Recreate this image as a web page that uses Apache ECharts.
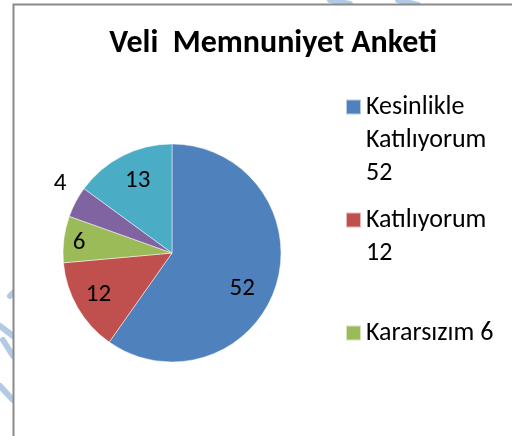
<!DOCTYPE html>
<html>
<head>
<meta charset="utf-8">
<script src="https://cdn.jsdelivr.net/npm/echarts@6/dist/echarts.min.js"></script>
<style>
  html, body { margin: 0; padding: 0; background: #fff; }
  #chart { width: 512px; height: 436px; }
</style>
</head>
<body>
<div id="chart"></div>
<script>
// Veli memnuniyet anketi - pasta grafik
const names = ['Kesinlikle Katılıyorum', 'Katılıyorum', 'Kararsızım', 'Katılmıyorum', 'Kesinlikle Katılmıyorum']
const values = [52, 12, 6, 4, 13]
// how each legend entry wraps before the value
const legendWrap = ['Kesinlikle\nKatılıyorum\n', 'Katılıyorum\n', 'Kararsızım ', 'Katılmıyorum\n', 'Kesinlikle\nKatılmıyorum\n']

const colors = ['#4F81BD', '#C0504D', '#9BBB59', '#8064A2', '#4BACC6']
const font = 'Carlito, "Noto Sans", sans-serif'
const center = [172, 253]
const R = 109
// excel "best fit" label spots: distance (share of radius) and angle shift from slice middle
const labelDist = [0.694, 0.75, 0.83, 1.18, 0.706]
const labelShift = [9.1, 0.3, -0.9, 3.9, 1.5]
const lineH = 33

const chart = echarts.init(document.getElementById('chart'))

// the last two legend rows fall below the cropped picture, so only the first three are drawn
const legends = names.slice(0, 3).map((n, i) => {
  const txt = legendWrap[i] + values[i]
  const lines = txt.split('\n').length
  return {
    orient: 'vertical',
    left: 345,
    top: 107 + i * 113 - (2 * lines - 1) * lineH / 2,
    padding: 0,
    itemWidth: 15,
    itemHeight: 15,
    icon: 'rect',
    selectedMode: false,
    data: [n],
    formatter: () => '\n'.repeat(lines - 1) + txt,
    textStyle: { fontFamily: font, fontSize: 26, color: '#000', lineHeight: lineH }
  }
})

// transparent rings only used to put the value labels where excel put them
const labelSeries = names.map((n, i) => ({
  type: 'pie',
  silent: true,
  center: center,
  radius: [labelDist[i] * R - 4, labelDist[i] * R + 4],
  startAngle: 90 - labelShift[i],
  avoidLabelOverlap: false,
  emphasis: { disabled: true },
  itemStyle: { color: 'rgba(0,0,0,0)' },
  labelLine: { show: false },
  label: {
    position: 'inside',
    formatter: '{c}',
    fontFamily: font,
    fontSize: 25,
    color: '#000'
  },
  data: names.map((m, j) => ({ name: m, value: values[j], label: { show: j === i } }))
}))

// faint blue scan marks round the frame
const marks = [
  [[0, 326], [13, 336]],
  [[3, 340], [13, 356]],
  [[0, 386], [13, 400]],
  [[10, 296], [13, 293]],
  [[330, 0], [350, 4]],
  [[398, 0], [418, 5]]
].map(p => ({
  type: 'polyline',
  z: -20,
  shape: { points: p },
  style: { stroke: '#b3cae7', lineWidth: 6, lineCap: 'round' }
}))

chart.setOption({
  animation: false,
  color: colors,
  title: {
    text: 'Veli  Memnuniyet Anketi',
    left: 268,
    top: 23,
    textAlign: 'center',
    textStyle: { fontFamily: font, fontSize: 32, fontWeight: 'bold', color: '#000' }
  },
  legend: legends,
  graphic: marks.concat([{
    type: 'rect',
    z: -10,
    shape: { x: 13.5, y: 4.5, width: 600, height: 500 },
    style: { fill: '#fff', stroke: '#898989', lineWidth: 2 }
  }]),
  series: [{
    type: 'pie',
    center: center,
    radius: R,
    startAngle: 90,
    avoidLabelOverlap: false,
    emphasis: { disabled: true },
    itemStyle: { borderColor: 'rgba(255,255,255,0.6)', borderWidth: 0.8 },
    label: { show: false },
    labelLine: { show: false },
    data: names.map((n, i) => ({ name: n, value: values[i] }))
  }].concat(labelSeries)
})
</script>
</body>
</html>
